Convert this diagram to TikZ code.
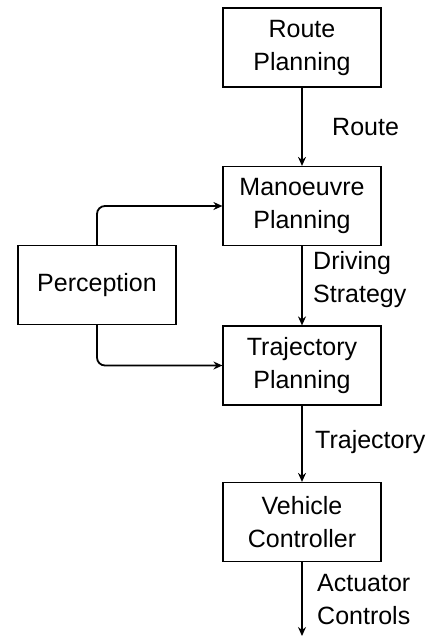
\documentclass[tikz,border=0pt]{standalone}
\usepackage{fontspec}
\setmainfont{Liberation Sans}
\usetikzlibrary{arrows.meta}
\begin{document}
\begin{tikzpicture}[x=1pt,y=-1pt,
  every node/.style={font=\fontsize{25}{33}\selectfont},
  block/.style={draw, line width=1.2pt, minimum width=158pt, minimum height=79pt,
                inner sep=0pt, align=center},
  lbl/.style={anchor=west, align=left, inner sep=0pt},
  flow/.style={line width=1.8pt, -{Stealth[length=9pt,width=8pt,inset=3pt]}},
  feed/.style={flow, rounded corners=8pt}]
\useasboundingbox (0,0) rectangle (428,638);
\fill[white] (0,0) rectangle (428,638);
% pipeline blocks
\node[block] (route) at (302,47.5) {Route\\Planning};
\node[block] (man)   at (302,206) {Manoeuvre\\Planning};
\node[block] (traj)  at (302,365.5) {Trajectory\\Planning};
\node[block] (veh)   at (302,522) {Vehicle\\Controller};
\node[block] (perc)  at (97,285) {Perception};
\coordinate (out) at (302,636);
% main flow
\draw[flow] (route) -- (man);
\draw[flow] (man) -- (traj);
\draw[flow] (traj) -- (veh);
\draw[flow] (veh) -- (out);
% perception feeds
\draw[feed] (perc.north) |- (man.west);
\draw[feed] (perc.south) |- (traj.west);
% flow labels
\node[lbl] (lroute) at (332,127) {Route};
\node[lbl] (ldrive) at (313,280) {Driving\\Strategy};
\node[lbl] (ltraj)  at (315,442) {Trajectory};
\node[lbl] (lact)   at (317,600) {Actuator\\Controls};
\end{tikzpicture}
\end{document}
